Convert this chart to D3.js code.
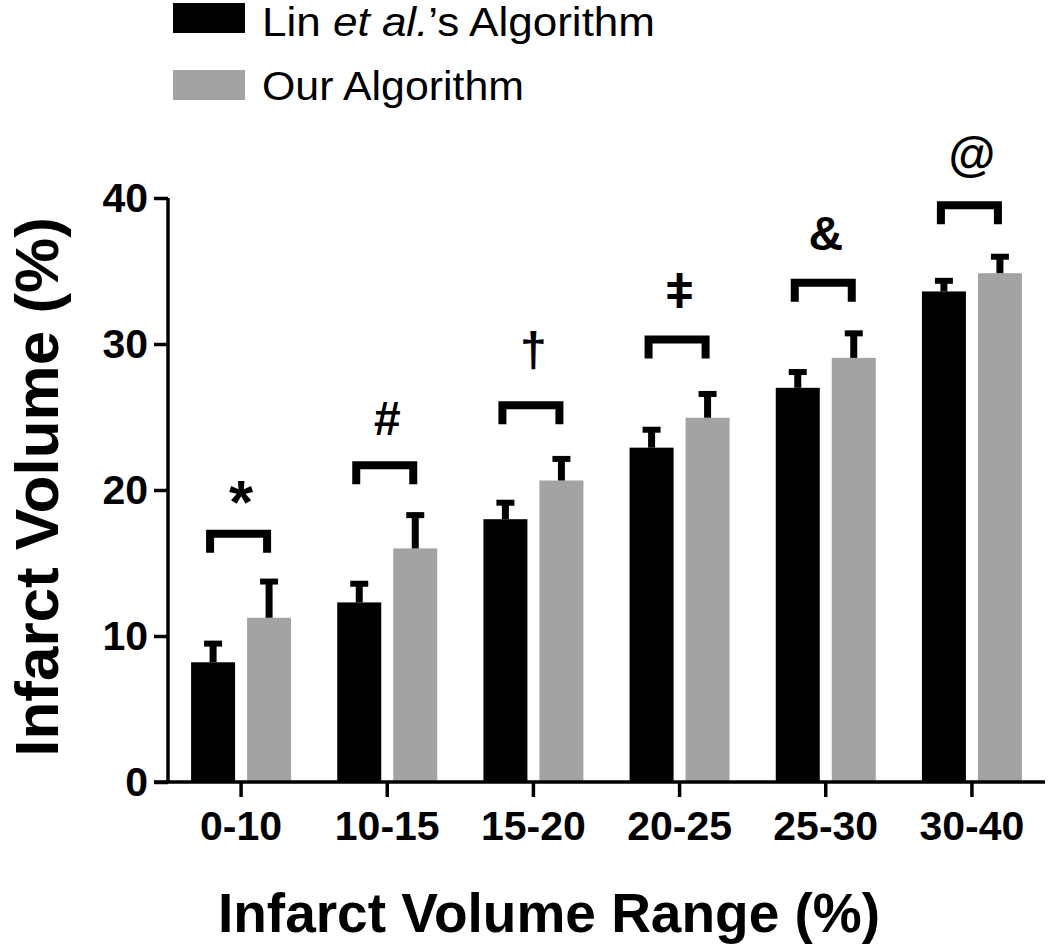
<!DOCTYPE html>
<html><head><meta charset="utf-8">
<script src="https://cdn.jsdelivr.net/npm/d3@7"></script>
<style>body{margin:0;background:#fff}svg{display:block}</style>
</head><body>
<svg id="chart" width="1050" height="946"></svg>
<script>
const categories = ["0-10","10-15","15-20","20-25","25-30","30-40"];
const linValues = [8.2, 12.3, 18.0, 22.9, 27.0, 33.6];
const linErrors = [1.45, 1.45, 1.3, 1.4, 1.25, 0.9];
const ourValues = [11.25, 16.0, 20.65, 24.95, 29.05, 34.85];
const ourErrors = [2.65, 2.45, 1.65, 1.8, 1.85, 1.3];
const bracketLevels = [17.0, 21.7, 25.8, 30.3, 34.2, 39.5];
const symbolLevels = [20.2, 24.9, 29.6, 33.6, 37.6, 43.0];
const symbols = ["*", "#", "†", "ǂ", "&", "@"];
const yTicks = [0, 10, 20, 30, 40];
const seriesNames = ["Lin", "Our Algorithm"];

const svg = d3.select("#chart");
const FONT = "'Liberation Sans', Arial, sans-serif";
const colors = {lin: "#000000", ours: "#a3a3a3"};

const x = d3.scaleBand().domain(categories).range([168, 1045]).paddingInner(0).paddingOuter(0);
const y = d3.scaleLinear().domain([0, 40]).range([782, 198]);
const barW = 44, gap = 12;
const cx = c => x(c) + x.bandwidth() / 2;
const linX = c => cx(c) - gap/2 - barW;
const ourX = c => cx(c) + gap/2;

// bars
const g = svg.append("g");
g.selectAll(".lin").data(categories).join("rect")
  .attr("x", c => linX(c)).attr("width", barW)
  .attr("y", (c,i) => y(linValues[i])).attr("height", (c,i) => y(0) - y(linValues[i]))
  .attr("fill", colors.lin);
g.selectAll(".our").data(categories).join("rect")
  .attr("x", c => ourX(c)).attr("width", barW)
  .attr("y", (c,i) => y(ourValues[i])).attr("height", (c,i) => y(0) - y(ourValues[i]))
  .attr("fill", colors.ours);

// error bars (upper only)
function errBars(vals, errs, xf) {
  categories.forEach((c,i) => {
    const xc = xf(c) + barW/2;
    g.append("line").attr("x1", xc).attr("x2", xc)
      .attr("y1", y(vals[i])).attr("y2", y(vals[i] + errs[i]))
      .attr("stroke", "#000").attr("stroke-width", 7);
    g.append("line").attr("x1", xc - 9).attr("x2", xc + 9)
      .attr("y1", y(vals[i] + errs[i]) + 2.5).attr("y2", y(vals[i] + errs[i]) + 2.5)
      .attr("stroke", "#000").attr("stroke-width", 6);
  });
}
errBars(linValues, linErrors, linX);
errBars(ourValues, ourErrors, ourX);

// significance brackets
categories.forEach((c,i) => {
  const x1 = linX(c) + barW/2 - 3, x2 = ourX(c) + barW/2 - 2;
  const yb = y(bracketLevels[i]);
  g.append("path")
    .attr("d", `M${x1},${yb + 19}V${yb}H${x2}V${yb + 19}`)
    .attr("fill", "none").attr("stroke", "#000").attr("stroke-width", 8)
    .attr("stroke-linejoin", "miter").attr("stroke-linecap", "butt");
  const isStar = symbols[i] === "*";
  const fs = isStar ? 62 : 48;
  g.append("text").attr("x", cx(c))
    .attr("y", isStar ? y(symbolLevels[i]) + 0.58 * fs : y(symbolLevels[i]))
    .attr("text-anchor", "middle").attr("dominant-baseline", isStar ? "alphabetic" : "central")
    .attr("font-family", FONT).attr("font-weight", "bold").attr("font-size", fs)
    .text(symbols[i]);
});

// y axis
const yAxis = svg.append("g").attr("transform", "translate(168,0)")
  .call(d3.axisLeft(y).tickValues(yTicks).tickSize(14).tickPadding(6).tickFormat(d3.format("d")));
yAxis.select(".domain").attr("stroke-width", 3.5).attr("d", `M0,${y(40)}V${y(0)}`);
yAxis.selectAll(".tick line").attr("stroke-width", 3.5);
yAxis.selectAll("text").attr("font-family", FONT).attr("font-weight", "bold").attr("font-size", 41).attr("fill", "#000");

// x axis
const xAxis = svg.append("g").attr("transform", `translate(0,${y(0)})`)
  .call(d3.axisBottom(x).tickSize(15).tickPadding(14));
xAxis.select(".domain").attr("stroke-width", 3.5).attr("d", `M154,0H1045`);
xAxis.selectAll(".tick line").attr("stroke-width", 3.5);
xAxis.selectAll("text").attr("font-family", FONT).attr("font-weight", "bold").attr("font-size", 41).attr("fill", "#000");

// axis titles
svg.append("text").attr("transform", `translate(58,${(y(0)+y(40))/2 - 3}) rotate(-90)`)
  .attr("text-anchor", "middle").attr("font-family", FONT).attr("font-weight", "bold")
  .attr("font-size", 62).text("Infarct Volume (%)");
svg.append("text").attr("x", 549).attr("y", 932)
  .attr("text-anchor", "middle").attr("font-family", FONT).attr("font-weight", "bold")
  .attr("font-size", 55).text("Infarct Volume Range (%)");

// legend
const leg = svg.append("g");
leg.append("rect").attr("x", 173).attr("y", 3).attr("width", 72).attr("height", 30).attr("fill", colors.lin);
leg.append("rect").attr("x", 173).attr("y", 70).attr("width", 72).attr("height", 30).attr("fill", colors.ours);
const t1 = leg.append("text").attr("x", 262).attr("y", 36).attr("font-family", FONT).attr("font-size", 40)
  .attr("textLength", 393).attr("lengthAdjust", "spacingAndGlyphs");
t1.append("tspan").text("Lin ");
t1.append("tspan").attr("font-style", "italic").text("et al.");
t1.append("tspan").text("’s Algorithm");
leg.append("text").attr("x", 262).attr("y", 100).attr("font-family", FONT).attr("font-size", 40)
  .attr("textLength", 262).attr("lengthAdjust", "spacingAndGlyphs").text(seriesNames[1]);
</script>
</body></html>
